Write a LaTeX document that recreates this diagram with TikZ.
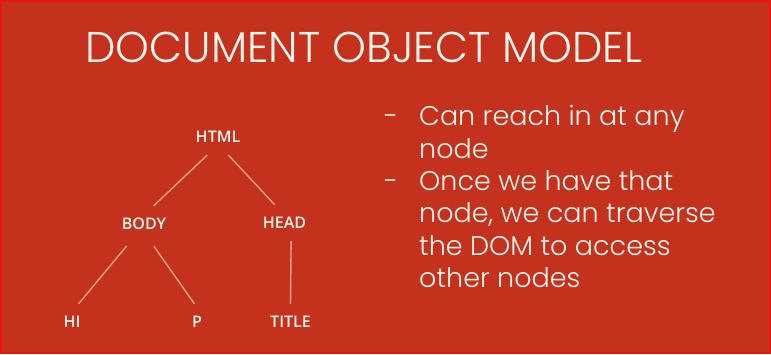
\documentclass[tikz,border=0pt]{standalone}
\usepackage{fontspec}
\IfFontExistsTF{Poppins Light}{\setmainfont{Poppins Light}}{\setmainfont{Poppins}}
\IfFontExistsTF{Open Sans Semibold}{\newfontfamily\treefont{Open Sans Semibold}}{\newfontfamily\treefont{Open Sans}[FakeBold=1.2]}
\usetikzlibrary{positioning}

\definecolor{slidered}{RGB}{196,49,28}
\definecolor{frame}{RGB}{232,22,14}
\definecolor{ink}{RGB}{255,246,240}
\definecolor{branch}{RGB}{242,164,146}

\begin{document}
\begin{tikzpicture}[x=1pt, y=-1pt,
  tag/.style={text=ink, font=\treefont\fontsize{16}{16}\selectfont, inner sep=0pt, minimum height=36pt, minimum width=56pt},
  branchline/.style={draw=branch, line width=1.4pt}]

\fill[slidered] (0,0) rectangle (771,354);
\draw[frame, line width=2pt] (1,1) rectangle (770,353);
\useasboundingbox (0,0) rectangle (771,354);

% heading
\node[text=ink, font=\fontsize{43}{43}\selectfont, inner sep=0pt] (heading) at (364,47) {DOCUMENT OBJECT MODEL};

% tree
\node[tag] (html)  at (218,137)   {HTML};
\node[tag] (body)  at (144,224)   {BODY};
\node[tag] (head)  at (284.5,223) {HEAD};
\node[tag] (hi)    at (72,322)    {HI};
\node[tag] (p)     at (197,322)   {P};
\node[tag] (title) at (290.5,322) {TITLE};

\draw[branchline] (html.239) -- (body.62);
\draw[branchline] (html.300) -- (head.118);
\draw[branchline, shorten <=5pt] (body.232) -- (hi.70);
\draw[branchline, shorten <=5pt] (body.291) -- (p.98);
\draw[branchline] (head.290) -- (title.90);

% notes
\node[text=ink, font=\fontsize{27}{32.3}\selectfont, inner sep=0pt, anchor=north west] (notes) at (384,103)
  {\begin{tabular}{@{}l@{\hspace{21pt}}l@{}}
   - & Can reach in at any\\
     & node\\
   - & Once we have that\\
     & node, we can traverse\\
     & the DOM to access\\
     & other nodes
   \end{tabular}};

\end{tikzpicture}
\end{document}
